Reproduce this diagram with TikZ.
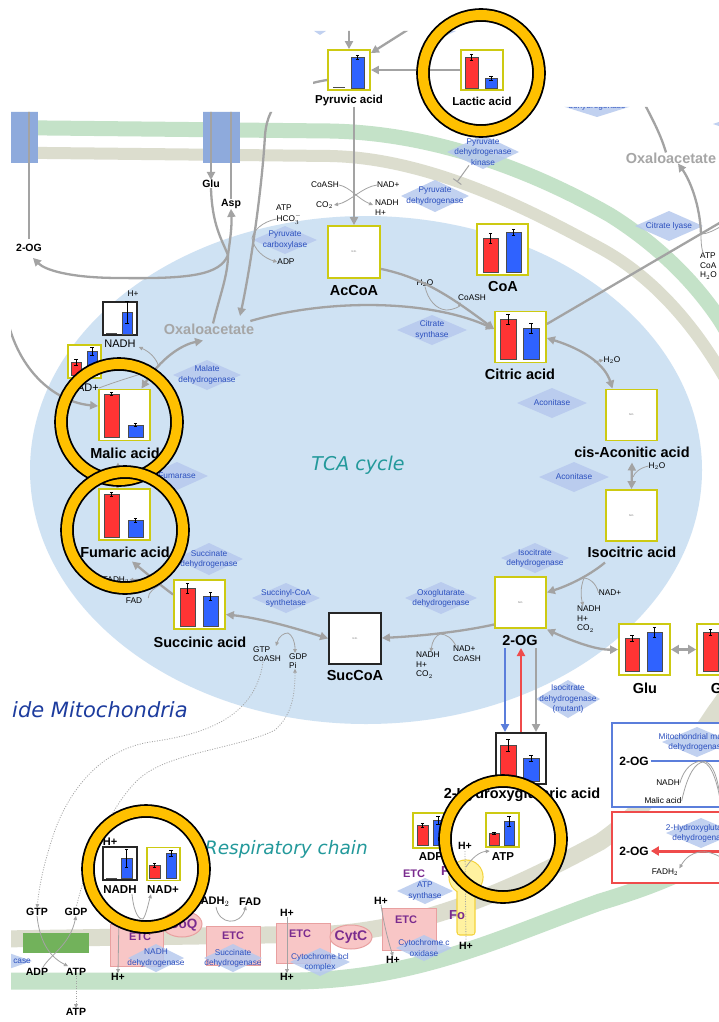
\documentclass[tikz,border=0pt]{standalone}
\usepackage{fontspec}
\setmainfont{Liberation Sans}
\newfontfamily\handfont{DejaVu Sans}
\usetikzlibrary{arrows.meta,shapes.geometric}

\definecolor{matrixblue}{HTML}{CFE2F3}
\definecolor{outermem}{HTML}{C4E2C8}
\definecolor{innermem}{HTML}{DCDDCE}
\definecolor{transp}{HTML}{8EAADC}
\definecolor{agray}{HTML}{A3A3A3}
\definecolor{boxyel}{HTML}{CDCA12}
\definecolor{barred}{HTML}{FF3434}
\definecolor{barblue}{HTML}{2F62FF}
\definecolor{enzblue}{HTML}{2C50BE}
\definecolor{enzfill}{HTML}{B7C9EE}
\definecolor{etcpink}{HTML}{F8C6C6}
\definecolor{etcedge}{HTML}{E8A0A0}
\definecolor{etcpurple}{HTML}{7A2B8E}
\definecolor{ringgold}{HTML}{FFC000}
\definecolor{handteal}{HTML}{23999B}
\definecolor{handblue}{HTML}{1D3C9E}
\definecolor{foyellow}{HTML}{FFF2A0}
\definecolor{foedge}{HTML}{F4D33C}
\definecolor{ndkgreen}{HTML}{72B25B}
\definecolor{pathblue}{HTML}{5B7EDB}
\definecolor{pathred}{HTML}{EF4B4B}
\definecolor{oaagray}{HTML}{A6A6A6}

\tikzset{
  mainarrow/.style={draw=agray, line width=2.3pt, -{Triangle[length=8pt,width=8pt]}},
  mainboth/.style={draw=agray, line width=2.3pt, {Triangle[length=8pt,width=8pt]}-{Triangle[length=8pt,width=8pt]}},
  mainline/.style={draw=agray, line width=2.3pt},
  cofarrow/.style={draw=agray, line width=0.8pt, -{Triangle[length=4pt,width=3.6pt]}},
  cofboth/.style={draw=agray, line width=0.8pt, {Triangle[length=4pt,width=3.6pt]}-{Triangle[length=4pt,width=3.6pt]}},
  cofline/.style={draw=agray, line width=0.8pt},
  dotarrow/.style={draw=agray, line width=0.8pt, dash pattern=on 1pt off 1.5pt, -{Triangle[length=4pt,width=3.6pt]}},
  chartbox/.style={draw=boxyel, line width=1.8pt, fill=white, inner sep=0pt},
  blackbox/.style={draw=black!85, line width=1.8pt, fill=white, inner sep=0pt},
  met/.style={font=\fontsize{14.5}{16}\selectfont\bfseries, inner sep=0pt},
  metsmall/.style={font=\fontsize{11.5}{13}\selectfont\bfseries, inner sep=0pt},
  lbl/.style={font=\fontsize{10.5}{12}\selectfont\bfseries, inner sep=0pt},
  plain/.style={font=\fontsize{11}{12}\selectfont, inner sep=0pt},
  cof/.style={font=\fontsize{8.3}{9.5}\selectfont, inner sep=0pt, align=left},
  enztext/.style={font=\fontsize{8.3}{10.3}\selectfont, text=enzblue, inner sep=0pt, align=center},
  nd/.style={font=\fontsize{2.5}{3}\selectfont, text=black!60, inner sep=0pt},
  etcbox/.style={draw=etcedge, line width=1pt, fill=etcpink, inner sep=0pt},
  etclabel/.style={font=\fontsize{11}{12}\selectfont\bfseries, text=etcpurple, inner sep=0pt},
  oaa/.style={font=\fontsize{14.5}{16}\selectfont\bfseries, text=oaagray, inner sep=0pt},
  ringmark/.style={circle, draw=black, line width=1.8pt, double=ringgold, double distance=10pt, minimum size=#1, inner sep=0pt},
}

% enzyme label: name, x, y, width, height, text
\newcommand\enzlabel[6]{%
  \fill[enzfill, opacity=0.85] ({#2-#4/2},#3) -- (#2,{#3-#5/2}) -- ({#2+#4/2},#3) -- (#2,{#3+#5/2}) -- cycle;
  \node[enztext] (#1) at (#2,#3) {#6};}
% bar with error bar: colour, x1, x2, top, bottom, error
\newcommand\databar[6]{%
  \filldraw[fill=#1, draw=black!70, line width=0.4pt] (#2,#5) rectangle (#3,#4);
  \draw[black, line width=0.45pt] ({(#2+#3)/2},{#4-#6}) -- ({(#2+#3)/2},{#4+#6})
    ({(#2+#3)/2-1.6},{#4-#6}) -- ({(#2+#3)/2+1.6},{#4-#6})
    ({(#2+#3)/2-1.6},{#4+#6}) -- ({(#2+#3)/2+1.6},{#4+#6});}
% bar of zero height
\newcommand\flatbar[3]{\draw[black!70, line width=0.8pt] (#1,#3) -- (#2,#3);}

\begin{document}
\begin{tikzpicture}[x=1pt,y=-1pt]
\useasboundingbox (0,0) rectangle (719,1022);
\fill[white] (0,0) rectangle (719,1022);

\begin{scope}
\clip (11,112) -- (313,112) -- (313,31) -- (555,31) -- (555,107) -- (719,107) -- (719,1022) -- (11,1022) -- cycle;

% ---------- membranes ----------
\draw[outermem, line width=15pt] (0,127.5) -- (330,131) .. controls (440,133) and (540,175) .. (610,215) .. controls (650,240) and (690,275) .. (720,320) .. controls (760,385) and (790,450) .. (800,520);
\draw[outermem, line width=17pt] (760,800) .. controls (745,845) and (690,875) .. (600,902) .. controls (500,938) and (420,978) .. (300,981) -- (0,981);
\draw[innermem, line width=12pt] (0,152.5) -- (330,156) .. controls (430,158) and (530,210) .. (600,248) .. controls (650,275) and (690,320) .. (720,370) .. controls (745,410) and (760,470) .. (765,540);
\draw[innermem, line width=17pt] (760,600) .. controls (750,660) and (735,685) .. (715,712) .. controls (680,765) and (640,815) .. (600,842) .. controls (520,885) and (430,928) .. (330,934) -- (0,939);

\fill[transp] (11,90) rectangle (38,163);
\fill[transp] (203,90) rectangle (240,163);

% ---------- matrix ----------
\fill[matrixblue] (366,470) ellipse [x radius=336, y radius=254];

% ---------- enzyme labels ----------
\enzlabel{cutA}{320}{20}{44}{30}{}
\enzlabel{cutB}{445}{20}{70}{32}{}
\enzlabel{cutC}{597}{106}{70}{22}{dehydrogenase}
\enzlabel{cutD}{748}{124}{70}{24}{}
\enzlabel{pdk}{483}{152}{72}{34}{Pyruvate\\dehydrogenase\\kinase}
\enzlabel{pdh}{435}{196}{68}{32}{Pyruvate\\dehydrogenase}
\enzlabel{pc}{285}{240}{64}{28}{Pyruvate\\carboxylase}
\enzlabel{cs}{432}{330}{70}{30}{Citrate\\synthase}
\enzlabel{acoA}{552}{403}{70}{30}{Aconitase}
\enzlabel{acoB}{574}{477}{70}{30}{Aconitase}
\enzlabel{idh}{535}{558}{68}{30}{Isocitrate\\dehydrogenase}
\enzlabel{ogdh}{441}{598}{72}{32}{Oxoglutarate\\dehydrogenase}
\enzlabel{scs}{286}{598}{68}{30}{Succinyl-CoA\\synthetase}
\enzlabel{sdh}{209}{559}{68}{32}{Succinate\\dehydrogenase}
\enzlabel{fumase}{177}{476}{62}{28}{Fumarase}
\enzlabel{mdh}{207}{375}{68}{30}{Malate\\dehydrogenase}
\enzlabel{acly}{669}{226}{68}{30}{Citrate lyase}
\enzlabel{idhm}{568}{699}{64}{38}{Isocitrate\\dehydrogenase\\(mutant)}

% ---------- boxes (data charts) ----------
\node[chartbox, minimum width=42pt, minimum height=40pt] (pyr) at (349,70) {};
\flatbar{333}{345}{87.5}
\databar{barblue}{351}{364}{57}{88}{2}
\node[metsmall] (pyrl) at (349,101) {Pyruvic acid};

\node[chartbox, minimum width=42pt, minimum height=40pt] (lac) at (482,70) {};
\databar{barred}{465}{478}{57}{88}{3}
\databar{barblue}{485}{497}{78}{88}{2}
\node[metsmall] (lacl) at (482,101) {Lactic acid};

\node[chartbox, minimum size=52pt] (accoa) at (354,252) {};
\node[nd] (accoand) at (accoa) {N.D.};
\node[met] (accoal) at (354,291) {AcCoA};

\node[chartbox, minimum size=51pt] (coa) at (502.5,249.5) {};
\databar{barred}{483}{498}{238}{272}{5}
\databar{barblue}{506}{521}{232}{272}{3}
\node[met] (coal) at (503,287) {CoA};

\node[chartbox, minimum size=51pt] (cit) at (520.5,337) {};
\databar{barred}{500}{516}{319}{359}{5}
\databar{barblue}{523}{539}{328}{359}{5}
\node[met] (citl) at (520,374) {Citric acid};

\node[chartbox, minimum size=51pt] (cis) at (631.5,415) {};
\node[nd] (cisnd) at (cis) {N.D.};
\node[met] (cisl) at (632,452) {cis-Aconitic acid};

\node[chartbox, minimum size=51pt] (iso) at (631.5,515.5) {};
\node[nd] (isond) at (iso) {N.D.};
\node[met] (isol) at (632,552) {Isocitric acid};

\node[chartbox, minimum size=51pt] (og) at (520.5,602.5) {};
\node[nd] (ognd) at (og) {N.D.};
\node[met] (ogl) at (520,641) {2-OG};

\node[blackbox, minimum width=52pt, minimum height=51pt] (succoa) at (355,638.5) {};
\node[nd] (succoand) at (succoa) {N.D.};
\node[met] (succoal) at (355,676) {SucCoA};

\node[chartbox, minimum width=51pt, minimum height=49pt] (suc) at (199.5,604.5) {};
\databar{barred}{180}{195}{588}{626}{5}
\databar{barblue}{203}{218}{596}{626}{4}
\node[met] (sucl) at (200,642) {Succinic acid};

\node[chartbox, minimum size=51pt] (fum) at (124.5,514.5) {};
\databar{barred}{104}{119}{494}{537}{2}
\databar{barblue}{128}{143}{520}{537}{2}
\node[met] (fuml) at (125,552) {Fumaric acid};

\node[chartbox, minimum size=51pt] (mal) at (124.5,415) {};
\databar{barred}{104}{119}{394}{437}{1.5}
\databar{barblue}{128}{143}{425}{437}{1.5}
\node[met] (mall) at (125,453) {Malic acid};

\node[chartbox, minimum size=51pt] (glu) at (644.5,649.5) {};
\databar{barred}{625}{639}{638}{671}{3}
\databar{barblue}{647}{662}{632}{671}{5}
\node[met] (glul) at (645,688) {Glu};

\node[chartbox, minimum size=51pt] (gln) at (722.5,649.5) {};
\databar{barred}{703}{718}{632}{671}{3}
\databar{barblue}{725}{740}{640}{671}{3}
\node[met] (glnl) at (723,688) {Gln};

\node[blackbox, minimum width=50pt, minimum height=51pt] (hg) at (521,758.5) {};
\databar{barred}{500}{516}{745}{781}{6}
\databar{barblue}{523}{539}{758}{781}{3}
\node[met] (hgl) at (522,795) {2-Hydroxyglutaric acid};

% small cofactor charts near malate dehydrogenase
\node[blackbox, minimum width=34pt, minimum height=33pt] (nadhA) at (120,318.5) {};
\flatbar{106}{117}{333.5}
\databar{barblue}{122}{132}{312}{334}{11}
\node[cof] (nadhAh) at (133,294) {H+};
\node[plain] (nadhAl) at (120,344) {NADH};
\node[chartbox, minimum width=33pt, minimum height=33pt] (nadA) at (84.5,361.5) {};
\databar{barred}{71}{81}{362}{375}{3}
\databar{barblue}{87}{97}{351}{375}{4}
\node[plain] (nadAl) at (84,388) {NAD+};

% ---------- labels ----------
\node[oaa] (oaain) at (209,329) {Oxaloacetate};
\node[oaa] (oaaout) at (671,158) {Oxaloacetate};
\node[lbl] (gluout) at (211,184) {Glu};
\node[lbl] (asp) at (231,204) {Asp};
\node[lbl] (ogleft) at (29,248) {2-OG};
\node[font=\handfont\itshape\fontsize{19}{20}\selectfont, text=handteal, inner sep=0pt] (tca) at (358,465) {TCA cycle};
\node[font=\handfont\itshape\fontsize{21}{22}\selectfont, text=handblue, inner sep=0pt, anchor=west] (mito) at (12,710) {ide Mitochondria};
\node[font=\handfont\itshape\fontsize{18.5}{20}\selectfont, text=handteal, inner sep=0pt, anchor=east] (resp) at (368,849) {Respiratory chain};

% cofactors
\node[cof, anchor=east] (pdhcoash) at (339,185) {CoASH};
\node[cof, anchor=east] (pdhco) at (333,205) {CO$_2$};
\node[cof, anchor=west] (pdhnad) at (377,185) {NAD+};
\node[cof, anchor=north west] (pdhnadh) at (375,200) {NADH\\H+};
\node[cof] (pcatp) at (284,208) {ATP};
\node[cof] (pchco) at (289,219) {HCO$_3^-$};
\node[cof] (pcadp) at (286,262) {ADP};
\node[cof] (csh) at (425,283) {H$_2$O};
\node[cof] (cscoash) at (472,298) {CoASH};
\node[cof] (acoh) at (612,360) {H$_2$O};
\node[cof] (acohb) at (657,466) {H$_2$O};
\node[cof] (idhnad) at (610,593) {NAD+};
\node[cof, anchor=north west] (idhnadh) at (577,606) {NADH\\H+\\CO$_2$};
\node[cof, anchor=north west] (ogdhnadh) at (416,652) {NADH\\H+\\CO$_2$};
\node[cof, anchor=north west] (ogdhnad) at (453,646) {NAD+\\CoASH};
\node[cof, anchor=north west] (scsgtp) at (253,646) {GTP\\CoASH};
\node[cof, anchor=north west] (scsgdp) at (289,653) {GDP\\Pi};
\node[cof] (sdhfadh) at (116,580) {FADH$_2$};
\node[cof] (sdhfad) at (134,601) {FAD};
\node[cof, anchor=north west] (aclycof) at (700,253) {ATP\\CoA\\H$_2$O};

% ---------- reactions ----------
\coordinate (topin) at (349,20);
\coordinate (topdiag) at (420,22);
\draw[mainarrow] (topin) -- (pyr.north);
\draw[mainarrow] (topdiag) -- ([yshift=-4pt]pyr.north east);
\draw[mainarrow] (lac.west) -- (pyr.east);
\draw[mainarrow] (pyrl.south -| accoa.north) -- (accoa.north);
\draw[cofarrow] (pdhcoash.east) .. controls (350,187) and (358,199) .. ([shift={(-2,5)}]pdhnadh.north west);
\draw[cofarrow] (pdhnad.west) .. controls (362,187) and (350,202) .. ([xshift=1pt]pdhco.east);
\coordinate (pdkfoot) at (457,182);
\draw[draw=agray, line width=1pt, -{Bar[width=10pt]}] ([xshift=-14pt]pdk.south) -- (pdkfoot);

% pyruvate carboxylase route to oxaloacetate
\draw[mainarrow] ([yshift=-10pt]pyr.west) .. controls (290,86) and (268,100) .. (265,135) .. controls (262,190) and (250,270) .. ([shift={(31,-13)}]oaain.center);
\draw[cofarrow] (pchco.west) .. controls (262,222) and (254,230) .. (252,238) .. controls (254,250) and (264,258) .. (pcadp.west);

% aspartate aminotransferase exchange
\coordinate (aat) at (228,255);
\draw[mainarrow] (211,95) -- (gluout.north);
\draw[mainline] (asp.north) -- (231,95);
\draw[mainline] ([yshift=5pt]ogleft.north) -- (29,95);
\draw[mainline] (gluout.south) .. controls (212,225) and (222,240) .. (aat);
\draw[mainline] ([xshift=4pt]oaain.north) .. controls (220,295) and (228,275) .. (aat);
\draw[mainarrow] (aat) .. controls (230,240) and (232,228) .. (asp.south);
\draw[mainarrow] (aat) .. controls (220,275) and (190,279) .. (120,278) .. controls (70,278) and (45,270) .. ([shift={(4,6)}]ogleft.south);

% citrate synthase
\draw[mainarrow] ([shift={(-4,-8)}]oaain.east) .. controls (330,298) and (430,300) .. ([yshift=8pt]cit.west);
\draw[mainarrow] ([yshift=10pt]accoa.south east) .. controls (425,278) and (455,300) .. ([yshift=8pt]cit.west);
\draw[cofarrow] (csh.south) .. controls (428,300) and (436,309) .. (446,310) .. controls (454,310) and (460,306) .. ([shift={(2,4)}]cscoash.west);

% citrate lyase
\coordinate (lyaseend) at (728,218);
\coordinate (clbranch) at (701,234);
\draw[mainline] ([yshift=13pt]cit.east) -- (lyaseend);
\draw[mainarrow] (clbranch) .. controls (700,205) and (690,180) .. ([xshift=7pt]oaaout.south);
\draw[cofline] ([xshift=3pt]aclycof.north west) .. controls (701,246) and (701,240) .. (clbranch);
\draw[cofline] (clbranch) .. controls (708,234) and (714,230) .. (722,226);
\coordinate (oaatop) at (640,95);
\draw[mainline] (oaatop) .. controls (650,115) and (660,132) .. ([xshift=-5pt]oaaout.north);

% aconitase
\draw[mainboth] ([yshift=-1pt]cit.east) .. controls (585,350) and (605,365) .. ([xshift=-19pt]cis.north);
\draw[cofarrow] (594,362) -- (acoh.west);
\draw[mainboth] ([yshift=-5pt]cisl.south) -- (iso.north);
\draw[cofline] (acohb.west) .. controls (640,468) and (635,472) .. (633,477);

% isocitrate dehydrogenase
\draw[mainarrow] ([xshift=-27pt,yshift=-5pt]isol.south) .. controls (590,575) and (570,585) .. ([yshift=10pt]og.east);
\draw[cofarrow] (idhnad.west) .. controls (596,582) and (588,578) .. (584,578) .. controls (580,588) and (581,597) .. ([shift={(6,0)}]idhnadh.north west);

% oxoglutarate dehydrogenase
\draw[mainarrow] ([yshift=-22pt]og.west) .. controls (460,632) and (420,636) .. (succoa.east |- 0,638);
\draw[cofarrow] ([xshift=3pt]ogdhnad.north west) .. controls (452,638) and (446,634) .. (440,634) .. controls (435,636) and (432,642) .. ([xshift=15pt]ogdhnadh.north west);

% 2-OG to glutamate and glutamine
\draw[mainboth] ([yshift=-27pt]og.east) .. controls (570,640) and (595,650) .. (glu.west);
\draw[draw=agray, line width=3pt, {Triangle[length=8pt,width=9pt]}-{Triangle[length=8pt,width=9pt]}] (glu.east) -- (gln.west);

% 2-OG and 2-hydroxyglutarate
\coordinate (bluetop) at (505,648);
\coordinate (bluebot) at (505,732);
\coordinate (redtop) at (521,648);
\coordinate (redbot) at (521,732);
\coordinate (graytop) at (536,648);
\coordinate (graybot) at (536,732);
\draw[draw=pathblue, line width=2.5pt, -{Triangle[length=8pt,width=8pt]}] (bluetop) -- (bluebot);
\draw[draw=pathred, line width=2.5pt, -{Triangle[length=8pt,width=8pt]}] (redbot) -- (redtop);
\draw[draw=agray, line width=2.5pt, -{Triangle[length=8pt,width=8pt]}] (graytop) -- (graybot);

% succinyl-CoA synthetase
\draw[mainboth] ([yshift=-10pt]suc.east) .. controls (260,618) and (295,628) .. (succoa.west);
\draw[cofboth] ([shift={(23,0)}]scsgtp.north west) .. controls (279,636) and (284,633) .. (288,633) .. controls (292,635) and (295,641) .. ([xshift=6pt]scsgdp.north west);

% succinate dehydrogenase and fumarase
\draw[mainarrow] ([yshift=10pt]suc.west) .. controls (160,585) and (145,572) .. ([shift={(7,4)}]fuml.south);
\draw[cofarrow] ([shift={(6,-3)}]sdhfad.east) .. controls (148,592) and (155,588) .. (160,585) .. controls (150,579) and (138,579) .. (sdhfadh.east);
\draw[mainarrow] ([xshift=-7pt]fum.north) -- ([shift={(-7,4)}]mall.south);

% malate dehydrogenase
\coordinate (entrymal) at (5,308);
\draw[mainarrow] (entrymal) .. controls (15,370) and (55,402) .. ([yshift=9pt]mal.west);
\draw[mainboth] ([xshift=17pt]mal.north) .. controls (160,360) and (180,345) .. ([shift={(-6,6)}]oaain.south);
\draw[cofarrow] (nadAl.east) .. controls (125,378) and (148,373) .. (158.8,366.6) .. controls (156,358) and (150,352) .. ([shift={(3,3)}]nadhAl.east);

% ---------- right panels ----------
\node[draw=pathblue, line width=1.5pt, fill=white, minimum width=120pt, minimum height=84pt, inner sep=0pt] (mmdhpanel) at (672,765) {};
\node[draw=pathred, line width=1.5pt, fill=white, minimum width=120pt, minimum height=71pt, inner sep=0pt] (hgdhpanel) at (672,847.5) {};
\enzlabel{mmdh}{697}{742}{70}{30}{Mitochondrial malate\\dehydrogenase}
\enzlabel{hgdh}{701}{833}{70}{30}{2-Hydroxyglutarate\\dehydrogenase}
\node[font=\fontsize{12}{13}\selectfont\bfseries, inner sep=0pt] (mmog) at (634,761) {2-OG};
\node[font=\fontsize{12}{13}\selectfont\bfseries, inner sep=0pt] (hgog) at (634,851) {2-OG};
\node[cof] (mmnadh) at (668,783) {NADH};
\node[cof] (mmmal) at (663,801) {Malic acid};
\node[cof] (hgfadh) at (665,872) {FADH$_2$};
\coordinate (mmend) at (725,761);
\coordinate (hgstart) at (725,851);
\draw[draw=pathblue, line width=2pt] ([xshift=2pt]mmog.east) -- (mmend);
\draw[draw=pathred, line width=3pt, -{Triangle[length=8pt,width=9pt]}] (hgstart) -- ([xshift=2pt]hgog.east);
\draw[cofline] (mmnadh.east) .. controls (684,768) and (693,761) .. (703,761) .. controls (711,762) and (716,772) .. (719,790);
\draw[cofline] (mmmal.east) .. controls (688,772) and (696,763) .. (703,762) .. controls (712,764) and (718,785) .. (721,805);
\draw[cofarrow] (722,858) .. controls (706,848) and (690,850) .. ([xshift=1pt]hgfadh.north east);

% ---------- respiratory chain ----------
\node[fill=ndkgreen, minimum width=66pt, minimum height=20pt, inner sep=0pt] (ndk) at (56,943) {};
\enzlabel{ndkd}{0}{961}{64}{22}{}
\node[enztext, anchor=east] (ndkcase) at (31,961) {case};
\node[lbl] (gtpb) at (37,912) {GTP};
\node[lbl] (gdpb) at (76,912) {GDP};
\node[lbl] (adpb) at (37,972) {ADP};
\node[lbl] (atpb) at (76,972) {ATP};
\node[lbl] (atpc) at (76,1012) {ATP};
\draw[cofarrow] (gtpb.south) .. controls (40,945) and (52,958) .. ([shift={(-8,-2)}]atpb.north);
\draw[cofarrow] ([shift={(6,-1)}]adpb.north) .. controls (50,955) and (70,945) .. (gdpb.south);
\draw[dotarrow] (atpb.south) -- (atpc.north);
\draw[dotarrow] ([xshift=-4pt]scsgtp.south) .. controls (255,720) and (200,735) .. (150,742) .. controls (100,750) and (70,790) .. (55,830) .. controls (45,860) and (40,880) .. (gtpb.north);
\draw[dotarrow] (gdpb.north) .. controls (90,850) and (115,800) .. (140,778) .. controls (170,752) and (240,748) .. (275,730) .. controls (292,715) and (295,695) .. ([xshift=6pt]scsgdp.south west);

\node[etcbox, minimum width=53pt, minimum height=42pt] (etcA) at (136.5,945) {};
\node[ellipse, draw=etcedge, line width=1pt, fill=etcpink, minimum width=40pt, minimum height=26pt, inner sep=0pt] (coq) at (182,924) {};
\node[etcbox, minimum width=54pt, minimum height=39pt] (etcB) at (233,945.5) {};
\node[etcbox, minimum width=54pt, minimum height=40pt] (etcC) at (303,943) {};
\node[ellipse, draw=etcedge, line width=1pt, fill=etcpink, minimum width=42pt, minimum height=24pt, inner sep=0pt] (cytc) at (351,937) {};
\node[etcbox, minimum width=54pt, minimum height=42pt] (etcD) at (409,929) {};
\node[etclabel] (etcAl) at (140,937) {ETC};
\node[font=\fontsize{13.5}{14}\selectfont\bfseries, text=etcpurple, inner sep=0pt] (coql) at (183,925) {CoQ};
\node[etclabel] (etcBl) at (233,936) {ETC};
\node[etclabel] (etcCl) at (300,934) {ETC};
\node[font=\fontsize{14}{15}\selectfont\bfseries, text=etcpurple, inner sep=0pt] (cytcl) at (351,937) {CytC};
\node[etclabel] (etcDl) at (406,920) {ETC};
\enzlabel{cplxA}{156}{958}{56}{28}{NADH\\dehydrogenase}
\enzlabel{cplxB}{233}{958}{58}{28}{Succinate\\dehydrogenase}
\enzlabel{cplxC}{320}{962}{60}{28}{Cytochrome bcl\\complex}
\enzlabel{cplxD}{424}{948}{56}{26}{Cytochrome c\\oxidase}

% ATP synthase
\filldraw[fill=foyellow, draw=foedge, line width=1.2pt] (466,877) circle[radius=17];
\filldraw[fill=foyellow, draw=foedge, line width=1.2pt, rounded corners=3pt] (457,885) rectangle (475,935);
\fill[foyellow] (466,877) circle[radius=16.4];
\fill[foyellow] (457.6,886) rectangle (474.4,934.4);
\node[etclabel] (atpsl) at (414,874) {ETC};
\enzlabel{atps}{425}{891}{56}{26}{ATP\\synthase}
\node[font=\fontsize{13}{14}\selectfont\bfseries, text=etcpurple, inner sep=0pt] (fol) at (457,915) {Fo};
\node[font=\fontsize{13}{14}\selectfont\bfseries, text=etcpurple, inner sep=0pt, anchor=west] (fonel) at (441,871) {F1};

\node[lbl] (hA) at (118,977) {H+};
\node[lbl] (hCt) at (287,913) {H+};
\node[lbl] (hCb) at (287,977) {H+};
\node[lbl] (hDt) at (381,901) {H+};
\node[lbl] (hDb) at (393,960) {H+};
\node[lbl] (hEt) at (465,846) {H+};
\node[lbl] (hEb) at (466,946) {H+};
\node[font=\fontsize{11}{12}\selectfont\bfseries, inner sep=0pt] (fadhb) at (212,902) {FADH$_2$};
\node[font=\fontsize{11}{12}\selectfont\bfseries, inner sep=0pt] (fadb) at (250,902) {FAD};
\coordinate (hAtop) at (119,915);
\draw[cofarrow] (hAtop) -- (hA.north);
\draw[cofarrow] (hCt.south) -- (hCb.north);
\draw[cofarrow] (hDt.south) .. controls (384,925) and (388,940) .. (hDb.north);
\draw[cofarrow] ([xshift=4pt]fadhb.south) .. controls (219,925) and (240,926) .. ([xshift=-4pt]fadb.south);
\draw[cofline, dash pattern=on 1pt off 1.5pt] (hEb.north) -- (hEt.south);

% cofactor charts of the respiratory chain
\node[blackbox, minimum width=34pt, minimum height=33pt] (nadhB) at (120,863.5) {};
\flatbar{106}{117}{878}
\databar{barblue}{121}{132}{858}{878}{9}
\node[chartbox, minimum width=33pt, minimum height=33pt] (nadB) at (163.5,864) {};
\databar{barred}{149}{160}{865}{878}{2}
\databar{barblue}{166}{176}{853}{878}{3}
\node[font=\fontsize{11}{12}\selectfont\bfseries, inner sep=0pt] (nadhBh) at (110,842) {H+};
\node[metsmall] (nadhBl) at (120,890) {NADH};
\node[metsmall] (nadBl) at (163,890) {NAD+};
\draw[cofarrow] ([xshift=12pt]nadhBl.south) .. controls (134,915) and (140,920) .. (143,919) .. controls (146,915) and (148,905) .. ([xshift=-12pt]nadBl.south);

\node[chartbox, minimum width=36pt, minimum height=35pt] (adpc) at (431,830.5) {};
\databar{barred}{417}{428}{825}{845}{2}
\databar{barblue}{433}{443}{820}{845}{4}
\node[metsmall] (adpl) at (431,857) {ADP};
\node[chartbox, minimum width=33pt, minimum height=34pt] (atpch) at (502.5,830) {};
\databar{barred}{489}{499}{833}{845}{1}
\databar{barblue}{504}{514}{821}{845}{5}
\node[metsmall] (atpl) at (503,857) {ATP};
\draw[cofarrow] (466,867) .. controls (472,858) and (479,852) .. ([shift={(-2,-6)}]atpl.west);
\end{scope}

% ---------- highlight rings ----------
\node[ringmark=116pt] (ringlac) at (481,73) {};
\node[ringmark=116pt] (ringmal) at (119,422) {};
\node[ringmark=116pt] (ringfum) at (125,530) {};
\node[ringmark=116pt] (ringnadh) at (146,869) {};
\node[ringmark=116pt] (ringatp) at (503,839) {};
\end{tikzpicture}
\end{document}
